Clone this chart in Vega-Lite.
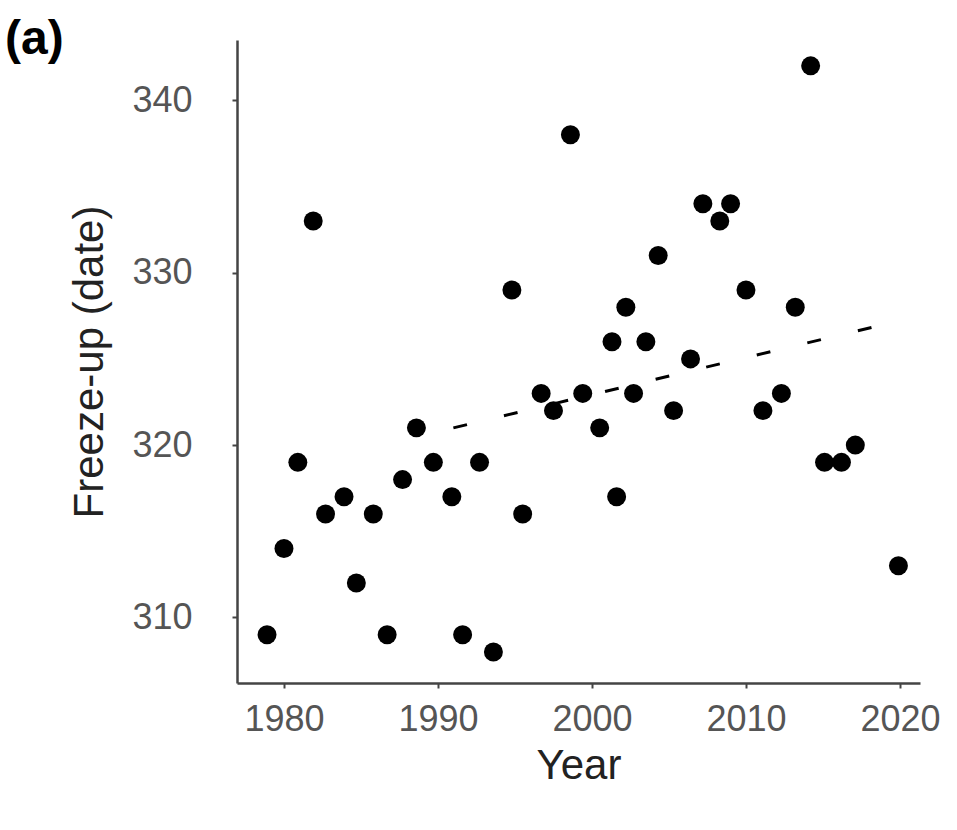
{
  "$schema": "https://vega.github.io/schema/vega-lite/v6.json",
  "width": 683,
  "height": 643,
  "autosize": {"type": "none"},
  "padding": {"left": 237, "top": 40, "right": 37, "bottom": 147},
  "background": "white",
  "config": {"view": {"stroke": null}, "font": "Liberation Sans"},
  "title": {"text": "(a)", "anchor": "start", "frame": "group", "orient": "top", "fontSize": 48, "fontWeight": "bold", "color": "black", "dx": -232, "offset": -72, "baseline": "bottom"},
  "datasets": {
    "pts": [
      {"year": 1978.9, "freeze": 309}, {"year": 1980.0, "freeze": 314}, {"year": 1980.9, "freeze": 319},
      {"year": 1981.9, "freeze": 333}, {"year": 1982.7, "freeze": 316}, {"year": 1983.9, "freeze": 317},
      {"year": 1984.7, "freeze": 312}, {"year": 1985.8, "freeze": 316}, {"year": 1986.7, "freeze": 309},
      {"year": 1987.7, "freeze": 318}, {"year": 1988.6, "freeze": 321}, {"year": 1989.7, "freeze": 319},
      {"year": 1990.9, "freeze": 317}, {"year": 1991.6, "freeze": 309}, {"year": 1992.7, "freeze": 319},
      {"year": 1993.6, "freeze": 308}, {"year": 1994.8, "freeze": 329}, {"year": 1995.5, "freeze": 316},
      {"year": 1996.7, "freeze": 323}, {"year": 1997.5, "freeze": 322}, {"year": 1998.6, "freeze": 338},
      {"year": 1999.4, "freeze": 323}, {"year": 2000.5, "freeze": 321}, {"year": 2001.3, "freeze": 326},
      {"year": 2001.6, "freeze": 317}, {"year": 2002.2, "freeze": 328}, {"year": 2002.7, "freeze": 323},
      {"year": 2003.5, "freeze": 326}, {"year": 2004.3, "freeze": 331}, {"year": 2005.3, "freeze": 322},
      {"year": 2006.4, "freeze": 325}, {"year": 2007.2, "freeze": 334}, {"year": 2008.3, "freeze": 333},
      {"year": 2009.0, "freeze": 334}, {"year": 2010.0, "freeze": 329}, {"year": 2011.1, "freeze": 322},
      {"year": 2012.3, "freeze": 323}, {"year": 2013.2, "freeze": 328}, {"year": 2014.2, "freeze": 342},
      {"year": 2015.1, "freeze": 319}, {"year": 2016.2, "freeze": 319}, {"year": 2017.1, "freeze": 320},
      {"year": 2019.9, "freeze": 313}
    ],
    "trend": [
      {"year": 1991.0, "freeze": 321.0},
      {"year": 2019.9, "freeze": 327.2}
    ]
  },
  "layer": [
    {
      "data": {"name": "trend"},
      "mark": {"type": "line", "color": "black", "strokeWidth": 3, "strokeDash": [14, 38]},
      "encoding": {
        "x": {"field": "year", "type": "quantitative"},
        "y": {"field": "freeze", "type": "quantitative"}
      }
    },
    {
      "data": {"name": "pts"},
      "mark": {"type": "point", "filled": true, "color": "black", "opacity": 1, "size": 360},
      "encoding": {
        "x": {
          "field": "year", "type": "quantitative",
          "scale": {"domain": [1976.95, 2021.3], "nice": false, "zero": false},
          "axis": {"values": [1980, 1990, 2000, 2010, 2020], "format": "d", "grid": false, "title": "Year",
            "domainColor": "#444", "domainWidth": 2.5, "tickColor": "#444", "tickSize": 5, "tickWidth": 2,
            "labelFontSize": 36, "labelColor": "#555", "labelPadding": 14,
            "titleFontSize": 42, "titleFontWeight": "normal", "titleColor": "#222", "titlePadding": 8}
        },
        "y": {
          "field": "freeze", "type": "quantitative",
          "scale": {"domain": [306.2, 343.5], "nice": false, "zero": false},
          "axis": {"values": [310, 320, 330, 340], "grid": false, "title": "Freeze-up (date)",
            "domainColor": "#444", "domainWidth": 2.5, "tickColor": "#444", "tickSize": 5, "tickWidth": 2,
            "labelFontSize": 36, "labelColor": "#555", "labelPadding": 40,
            "titleFontSize": 42, "titleFontWeight": "normal", "titleColor": "#222", "titlePadding": 20}
        }
      }
    }
  ]
}
